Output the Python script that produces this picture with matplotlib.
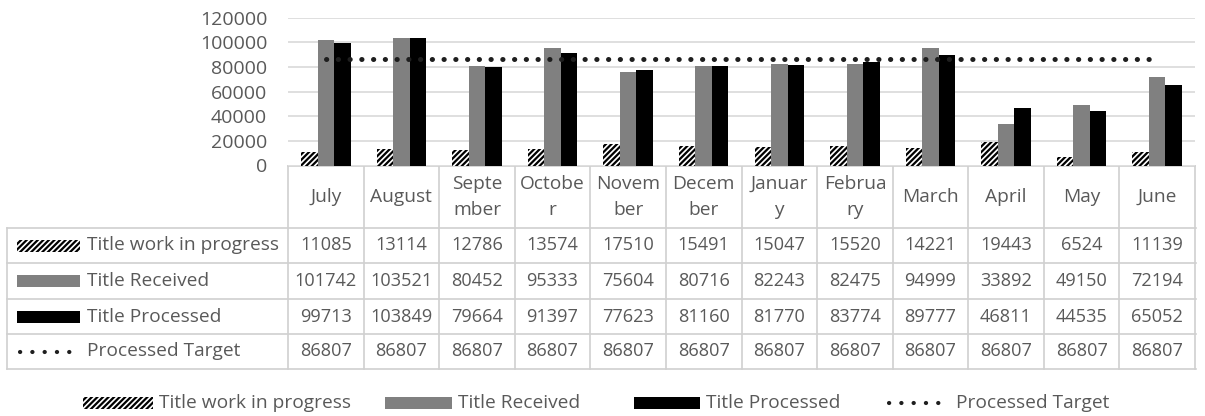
import matplotlib
matplotlib.use("Agg")
import matplotlib.pyplot as plt
from matplotlib.patches import Rectangle
import numpy as np

months = ["July", "August", "September", "October", "November", "December",
          "January", "February", "March", "April", "May", "June"]
header_labels = ["July", "August", "Septe\nmber", "Octobe\nr", "Novem\nber", "Decem\nber",
                 "Januar\ny", "Februa\nry", "March", "April", "May", "June"]
wip = [11085, 13114, 12786, 13574, 17510, 15491, 15047, 15520, 14221, 19443, 6524, 11139]
received = [101742, 103521, 80452, 95333, 75604, 80716, 82243, 82475, 94999, 33892, 49150, 72194]
processed = [99713, 103849, 79664, 91397, 77623, 81160, 81770, 83774, 89777, 46811, 44535, 65052]
target = [86807] * 12
series_names = ["Title work in progress", "Title Received", "Title Processed", "Processed Target"]
yticks = [0, 20000, 40000, 60000, 80000, 100000, 120000]

plt.rcParams['font.family'] = ['Open Sans', 'DejaVu Sans']
plt.rcParams['hatch.linewidth'] = 1.6
TXT = '#595959'
GRID = '#d9d9d9'
W, H = 1205, 416
HATCH = '//////'
DOTS = (0, (0.05, 2.3))
DOT_LW = 3.6
DOT_C = '#1e1e1e'

fig = plt.figure(figsize=(W / 100, H / 100), dpi=100)

# plot area in pixel geometry
px_l, px_r, px_top, px_bot = 288, 1195, 17.7, 165.5
ax = fig.add_axes([px_l / W, (H - px_bot) / H, (px_r - px_l) / W, (px_bot - px_top) / H])
x = np.arange(len(months))
bw = 0.218
ax.bar(x - bw, wip, bw, facecolor='white', edgecolor='black', linewidth=0, hatch=HATCH, zorder=2)
ax.bar(x, received, bw, color='#808080', linewidth=0, zorder=2)
ax.bar(x + bw, processed, bw, color='black', linewidth=0, zorder=2)
ax.plot(x, target, color=DOT_C, linewidth=DOT_LW, linestyle=DOTS,
        dash_capstyle='round', zorder=3)
ax.set_xlim(-0.5, len(months) - 0.5)
ax.set_ylim(0, 120000)
ax.set_yticks(yticks)
ax.set_yticklabels([str(v) for v in yticks], fontsize=14, color=TXT)
ax.tick_params(axis='y', length=0, pad=15)
ax.set_xticks([])
ax.grid(axis='y', color=GRID, linewidth=1.2, zorder=0)
for s in ax.spines.values():
    s.set_visible(False)

# overlay for data table and legend (pixel coordinates)
ov = fig.add_axes([0, 0, 1, 1], zorder=-1)
ov.set_xlim(0, W)
ov.set_ylim(H, 0)
ov.axis('off')
LC = '#d0d0d0'
colw = (px_r - px_l) / len(months)
row_y = [228, 263, 299, 334, 369]
hdr_top = 165.5
ov.plot([px_l, px_r], [hdr_top, hdr_top], color=LC, lw=1.2)
for y in row_y:
    ov.plot([7, px_r + 1], [y, y], color=LC, lw=1.2)
ov.plot([7, 7], [row_y[0], row_y[-1]], color=LC, lw=1.2)
for i in range(len(months) + 1):
    xx = px_l + i * colw
    ov.plot([xx, xx], [hdr_top, row_y[-1]], color=LC, lw=1.2)

fs_num = 13.1
fs_txt = 13.8
for i, lab in enumerate(header_labels):
    cx = px_l + (i + 0.5) * colw
    ov.text(cx, (hdr_top + row_y[0]) / 2 + 0.5, lab, ha='center', va='center', fontsize=fs_txt,
            color=TXT, linespacing=1.6)

rows = [wip, received, processed, target]
for r, vals in enumerate(rows):
    cy = (row_y[r] + row_y[r + 1]) / 2
    for i, v in enumerate(vals):
        cx = px_l + (i + 0.5) * colw
        ov.text(cx, cy, str(v), ha='center', va='center', fontsize=fs_num, color=TXT)


def swatch(kind, x0, x1, cy, h=12):
    if kind == 0:
        ov.add_patch(Rectangle((x0, cy - h / 2), x1 - x0, h, facecolor='white',
                               edgecolor='black', linewidth=0, hatch=HATCH))
    elif kind == 1:
        ov.add_patch(Rectangle((x0, cy - h / 2), x1 - x0, h, facecolor='#808080', linewidth=0))
    elif kind == 2:
        ov.add_patch(Rectangle((x0, cy - h / 2), x1 - x0, h, facecolor='black', linewidth=0))
    else:
        ov.plot([x0 + 3, x1 - 3], [cy, cy], color=DOT_C, linewidth=3.0,
                linestyle=(0, (0.05, 2.9)), dash_capstyle='round')


for r, name in enumerate(series_names):
    cy = (row_y[r] + row_y[r + 1]) / 2
    swatch(r, 17, 80, cy)
    ov.text(87, cy, name, ha='left', va='center', fontsize=fs_txt, color=TXT)

# bottom legend
leg_y = 403
leg_pos = [(83, 153), (385, 452), (634, 700), (886, 950)]
for r, name in enumerate(series_names):
    x0, x1 = leg_pos[r]
    swatch(r, x0, x1, leg_y)
    ov.text(x1 + 6, leg_y, name, ha='left', va='center', fontsize=fs_txt, color=TXT)

fig.savefig('out.png', dpi=100)
